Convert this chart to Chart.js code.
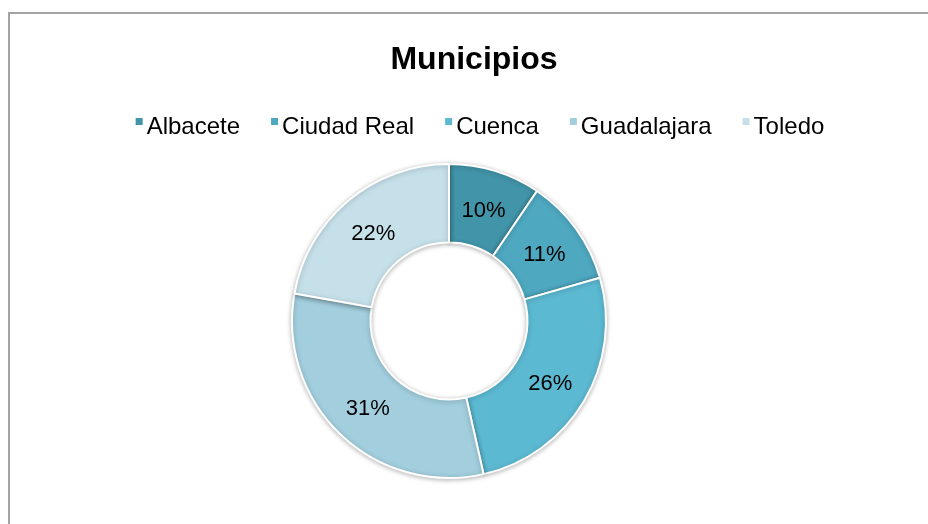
<!DOCTYPE html>
<html>
<head>
<meta charset="utf-8">
<script src="https://cdn.jsdelivr.net/npm/chart.js@4/dist/chart.umd.min.js"></script>
<style>
  html, body { margin: 0; padding: 0; background: #fff; width: 928px; height: 524px; overflow: hidden; }
  #frame { position: absolute; left: 8px; top: 12px; width: 1000px; height: 600px; border-left: 2px solid #a3a3a3; border-top: 2px solid #a3a3a3; }
  #wrap { position: absolute; left: 0; top: 0; width: 928px; height: 524px; }
</style>
</head>
<body>
<div id="frame"></div>
<div id="wrap"><canvas id="c" width="928" height="524"></canvas></div>
<script>
const title = "Municipios";
const categories = ["Albacete", "Ciudad Real", "Cuenca", "Guadalajara", "Toledo"];
const values = [87, 102, 238, 288, 204];
const valueLabels = ["10%", "11%", "26%", "31%", "22%"];
const colors = ["#4294a8", "#4ea8c0", "#5cb9d2", "#a2cedd", "#c6e0ea"];

const FONT = "'Liberation Sans', Arial, Helvetica, sans-serif";

const shadowPlugin = {
  id: 'shadow',
  beforeDatasetDraw(chart) {
    const ctx = chart.ctx;
    ctx.save();
    ctx.shadowColor = 'rgba(0,0,0,0.28)';
    ctx.shadowBlur = 5;
    ctx.shadowOffsetX = 0;
    ctx.shadowOffsetY = 1;
  },
  afterDatasetDraw(chart) {
    chart.ctx.restore();
  }
};

const labelsPlugin = {
  id: 'sliceLabels',
  afterDatasetsDraw(chart) {
    const ctx = chart.ctx;
    const meta = chart.getDatasetMeta(0);
    ctx.save();
    ctx.font = "22px " + FONT;
    ctx.fillStyle = "#000";
    ctx.textAlign = "center";
    ctx.textBaseline = "middle";
    meta.data.forEach((arc, i) => {
      const p = arc.tooltipPosition();
      ctx.fillText(valueLabels[i], p.x, p.y + 3);
    });
    ctx.restore();
  }
};

const headerPlugin = {
  id: 'header',
  afterDraw(chart) {
    const ctx = chart.ctx;
    ctx.save();
    // title
    ctx.font = "900 32px " + FONT;
    ctx.fillStyle = "#000";
    ctx.textAlign = "center";
    ctx.textBaseline = "alphabetic";
    ctx.fillText(title, 474, 69);
    // legend
    ctx.font = "24px " + FONT;
    const box = 7, boxGap = 4, itemGap = 31;
    let total = 0;
    const widths = categories.map(t => ctx.measureText(t).width);
    widths.forEach((w, i) => { total += box + boxGap + w + (i < widths.length - 1 ? itemGap : 0); });
    let x = 480 - total / 2;
    const baseline = 134;
    ctx.textAlign = "left";
    categories.forEach((t, i) => {
      ctx.fillStyle = colors[i];
      ctx.fillRect(x, 118, box, box);
      ctx.fillStyle = "#000";
      ctx.fillText(t, x + box + boxGap, baseline);
      x += box + boxGap + widths[i] + itemGap;
    });
    ctx.restore();
  }
};

new Chart(document.getElementById('c'), {
  type: 'doughnut',
  data: {
    labels: categories,
    datasets: [{
      data: values,
      backgroundColor: colors,
      borderColor: '#ffffff',
      borderWidth: 2
    }]
  },
  options: {
    responsive: false,
    animation: false,
    cutout: '50%',
    layout: { padding: { left: 291, right: 321, top: 163, bottom: 45 } },
    plugins: {
      legend: { display: false },
      title: { display: false },
      tooltip: { enabled: false }
    }
  },
  plugins: [shadowPlugin, labelsPlugin, headerPlugin]
});
</script>
</body>
</html>
